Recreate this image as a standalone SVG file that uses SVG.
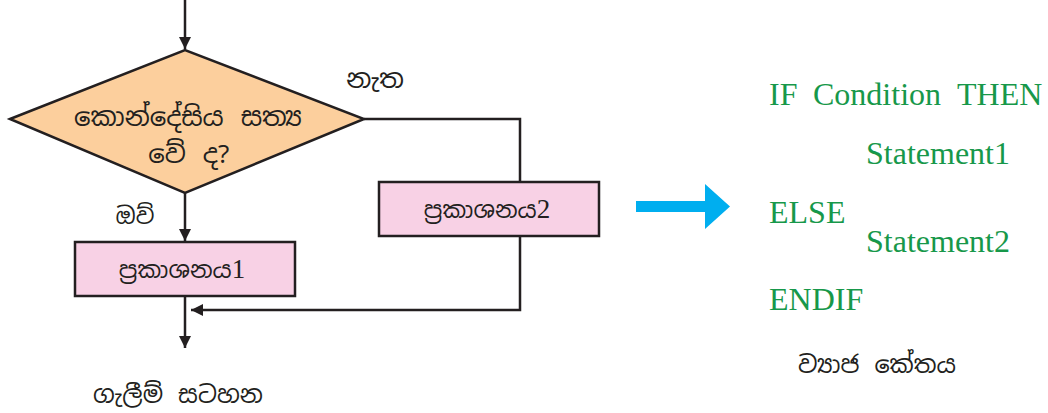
<svg xmlns="http://www.w3.org/2000/svg" width="1048" height="413" viewBox="0 0 1048 413">
<defs>
<marker id="ah" viewBox="0 0 12 12" refX="12" refY="6" markerWidth="12" markerHeight="12" markerUnits="userSpaceOnUse" orient="auto">
<path d="M0,0 L12,6 L0,12 Z" fill="#231f20"/>
</marker>
<style>
.si{font-family:"Noto Sans Sinhala","Noto Serif Sinhala","Iskoola Pota","Noto Sans","DejaVu Sans",sans-serif;fill:#231f20;}
.dg{font-family:"Liberation Serif","Times New Roman",serif;}
.code{font-family:"Liberation Serif","Times New Roman",serif;fill:#17984a;font-size:32px;}
.ln{stroke:#231f20;stroke-width:2.5;fill:none;}
.box{stroke:#231f20;stroke-width:2.5;}
</style>
</defs>
<rect width="1048" height="413" fill="#ffffff"/>
<g id="connectors">
<line class="ln" x1="185" y1="0" x2="185" y2="49" marker-end="url(#ah)"/>
<line class="ln" x1="185" y1="193" x2="185" y2="241" marker-end="url(#ah)"/>
<polyline class="ln" points="364,119 520,119 520,182"/>
<polyline class="ln" points="520,237 520,310 191,310" marker-end="url(#ah)"/>
<line class="ln" x1="185" y1="296" x2="185" y2="348" marker-end="url(#ah)"/>
</g>
<g id="decision">
<polygon class="box" points="10,119 185,50 364,119 185,193" fill="#fccf9d"/>
<text class="si" x="188" y="126" font-size="26" text-anchor="middle" word-spacing="4">කොන්දේසිය සත්‍ය</text>
<text class="si" x="189" y="163" font-size="26" text-anchor="middle" word-spacing="4">වේ ද?</text>
</g>
<g id="label-no">
<text class="si" x="375" y="88" font-size="26" text-anchor="middle">නැත</text>
</g>
<g id="label-yes">
<text class="si" x="135" y="224" font-size="23" text-anchor="middle">ඔව්</text>
</g>
<g id="statement1">
<rect class="box" x="75" y="242" width="220" height="54" fill="#f8d1e5"/>
<text class="si" x="182" y="278" font-size="23.5" text-anchor="middle">ප්‍රකාශනය<tspan class="dg" font-size="27">1</tspan></text>
</g>
<g id="statement2">
<rect class="box" x="379" y="182" width="220" height="54" fill="#f8d1e5"/>
<text class="si" x="487" y="218" font-size="23.5" text-anchor="middle">ප්‍රකාශනය<tspan class="dg" font-size="27">2</tspan></text>
</g>
<g id="caption-flowchart">
<text class="si" x="178" y="403" font-size="24" text-anchor="middle" word-spacing="3">ගැලීම් සටහන</text>
</g>
<g id="blue-arrow">
<polygon points="636,201 705,201 705,184 730,206.5 705,229 705,212 636,212" fill="#00aeef"/>
</g>
<g id="pseudocode">
<text class="code" x="769" y="105">IF</text>
<text class="code" x="813" y="105">Condition</text>
<text class="code" x="957" y="105">THEN</text>
<text class="code" x="866" y="164">Statement1</text>
<text class="code" x="769" y="223">ELSE</text>
<text class="code" x="866" y="252">Statement2</text>
<text class="code" x="769" y="310">ENDIF</text>
</g>
<g id="caption-pseudocode">
<text class="si" x="877" y="373" font-size="24" text-anchor="middle" word-spacing="3">ව්‍යාජ කේතය</text>
</g>
</svg>
